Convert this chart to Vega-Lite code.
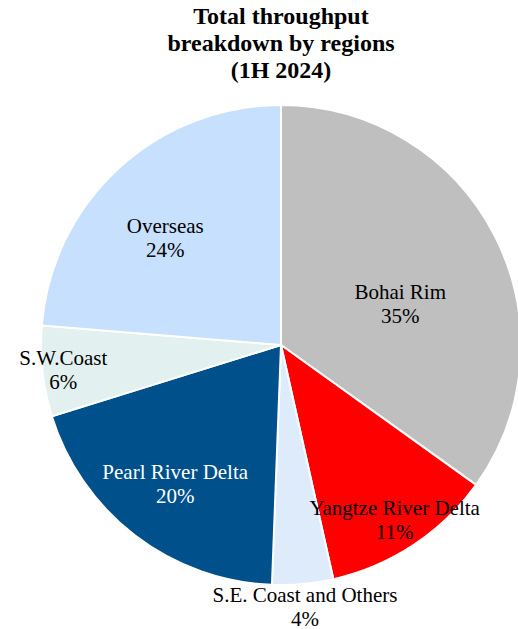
{
  "$schema": "https://vega.github.io/schema/vega-lite/v6.json",
  "width": 474,
  "height": 480,
  "autosize": "none",
  "padding": {"left": 44, "top": 105, "right": 0, "bottom": 44},
  "background": "white",
  "title": {
    "text": ["Total throughput", "breakdown by regions", "(1H 2024)"],
    "font": "Liberation Serif",
    "fontSize": 24,
    "fontWeight": "bold",
    "color": "black",
    "lineHeight": 27,
    "offset": 18,
    "anchor": "middle"
  },
  "data": {
    "values": [
      {"idx": 1, "region": "Bohai Rim", "share": 34.9, "label": "Bohai Rim\n35%"},
      {"idx": 2, "region": "Yangtze River Delta", "share": 11.6, "label": "Yangtze River Delta\n11%"},
      {"idx": 3, "region": "S.E. Coast and Others", "share": 4.1, "label": "S.E. Coast and Others\n4%"},
      {"idx": 4, "region": "Pearl River Delta", "share": 19.6, "label": "Pearl River Delta\n20%"},
      {"idx": 5, "region": "S.W.Coast", "share": 6.1, "label": "S.W.Coast\n6%"},
      {"idx": 6, "region": "Overseas", "share": 23.7, "label": "Overseas\n24%"}
    ]
  },
  "encoding": {
    "theta": {"field": "share", "type": "quantitative", "stack": true},
    "order": {"field": "idx", "type": "quantitative"}
  },
  "layer": [
    {
      "mark": {"type": "arc", "radius": 240, "stroke": "white", "strokeWidth": 2},
      "encoding": {
        "color": {
          "field": "region",
          "type": "nominal",
          "legend": null,
          "scale": {
            "domain": ["Bohai Rim", "Yangtze River Delta", "S.E. Coast and Others", "Pearl River Delta", "S.W.Coast", "Overseas"],
            "range": ["#BFBFBF", "#FF0000", "#DDEBFA", "#00508C", "#E2F0EF", "#C6E0FE"]
          }
        }
      }
    },
    {
      "mark": {"type": "text", "radius": 125, "dx": 8, "dy": 5, "align": "center", "baseline": "middle", "lineBreak": "\n", "font": "Liberation Serif", "fontSize": 21, "lineHeight": 24, "color": "black"},
      "encoding": {"text": {"condition": {"test": "datum.region === 'Bohai Rim'", "field": "label"}, "value": ""}}
    },
    {
      "mark": {"type": "text", "radius": 206, "dy": -8, "align": "center", "baseline": "middle", "lineBreak": "\n", "font": "Liberation Serif", "fontSize": 21, "lineHeight": 24, "color": "black"},
      "encoding": {"text": {"condition": {"test": "datum.region === 'Yangtze River Delta'", "field": "label"}, "value": ""}}
    },
    {
      "mark": {"type": "text", "radius": 263, "dy": -11, "align": "center", "baseline": "middle", "lineBreak": "\n", "font": "Liberation Serif", "fontSize": 21, "lineHeight": 24, "color": "black"},
      "encoding": {"text": {"condition": {"test": "datum.region === 'S.E. Coast and Others'", "field": "label"}, "value": ""}}
    },
    {
      "mark": {"type": "text", "radius": 174, "dy": -10, "align": "center", "baseline": "middle", "lineBreak": "\n", "font": "Liberation Serif", "fontSize": 21, "lineHeight": 24, "color": "white"},
      "encoding": {"text": {"condition": {"test": "datum.region === 'Pearl River Delta'", "field": "label"}, "value": ""}}
    },
    {
      "mark": {"type": "text", "radius": 219, "dy": -10, "align": "center", "baseline": "middle", "lineBreak": "\n", "font": "Liberation Serif", "fontSize": 21, "lineHeight": 24, "color": "black"},
      "encoding": {"text": {"condition": {"test": "datum.region === 'S.W.Coast'", "field": "label"}, "value": ""}}
    },
    {
      "mark": {"type": "text", "radius": 159, "dx": -8, "dy": -1, "align": "center", "baseline": "middle", "lineBreak": "\n", "font": "Liberation Serif", "fontSize": 21, "lineHeight": 24, "color": "black"},
      "encoding": {"text": {"condition": {"test": "datum.region === 'Overseas'", "field": "label"}, "value": ""}}
    }
  ],
  "config": {"view": {"stroke": null}}
}
